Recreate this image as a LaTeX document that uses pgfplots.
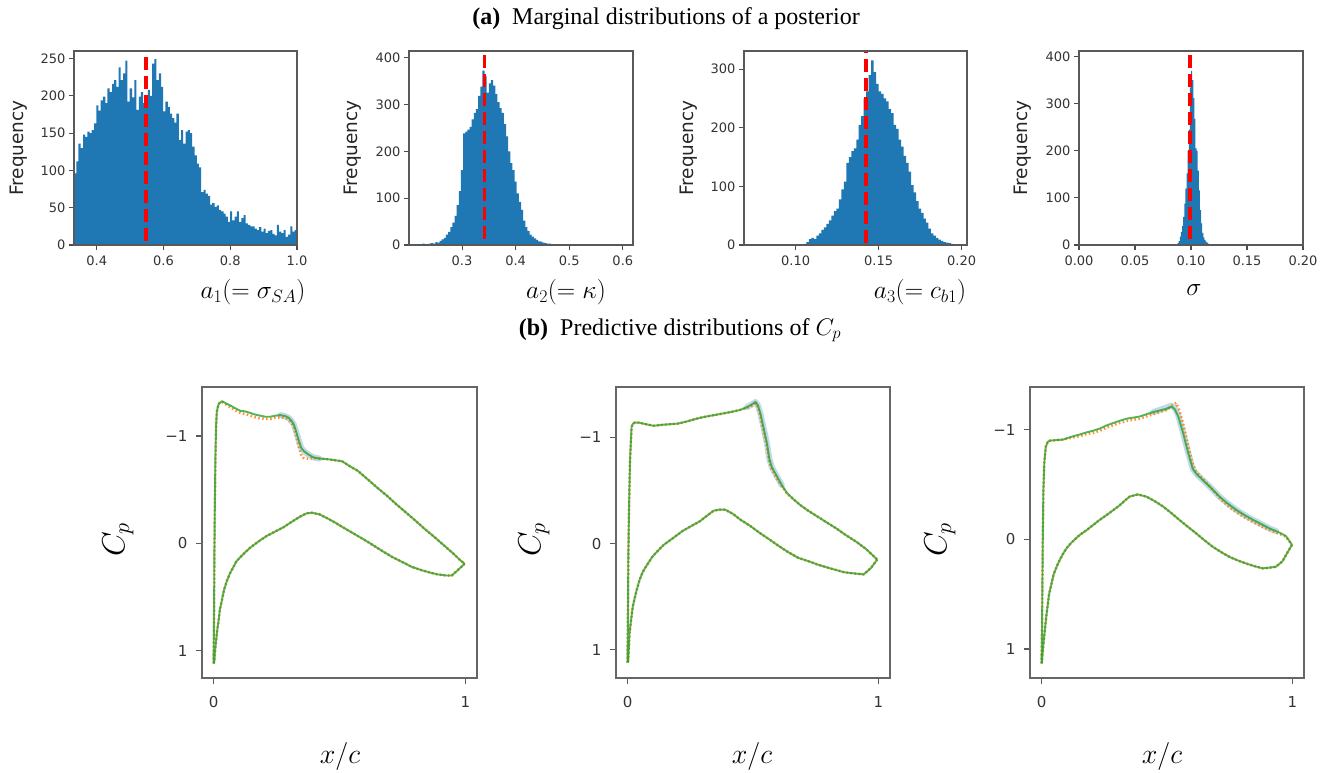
\RequirePackage{fix-cm}
\documentclass[border=0pt]{standalone}
\usepackage{fontspec}
\usepackage{pgfplots}
\pgfplotsset{compat=1.18}
\usepackage{pgfplotstable}
\newfontfamily\dejavu{DejaVu Sans}
\newfontfamily\lserif{Liberation Serif}
\definecolor{hblue}{HTML}{1F77B4}
\definecolor{mgreen}{HTML}{2CA02C}
\definecolor{morange}{HTML}{FF7F0E}

\pgfplotsset{
  hist/.style={scale only axis, width=223pt, height=194pt, anchor=south west,
    ymin=0, tick align=outside, tick pos=left, major tick length=5pt,
    axis on top,
    axis line style={draw=black!65, line width=1.3pt},
    every tick/.style={black!70, line width=1.1pt},
    tick label style={font=\dejavu\fontsize{13}{15}\selectfont, text=black!80},
    xticklabel style={yshift=-2pt},
    ylabel={Frequency},
    ylabel style={font=\dejavu\fontsize{18.5}{21}\selectfont, text=black!85, at={(axis description cs:-0.25,0.5)}, anchor=center}},
  histbar/.style={const plot mark left, fill=hblue, draw=none},
  truth/.style={red, line width=3.5pt, dash pattern=on 13pt off 6pt},
  cp/.style={scale only axis, width=274pt, height=291pt, anchor=south west,
    y dir=reverse, xmin=-0.046, xmax=1.046, xtick={0,1}, xticklabels={0,1},
    ytick={-1,0,1}, yticklabels={−1,0,1},
    tick align=outside, tick pos=left, major tick length=6pt,
    axis line style={draw=black!60, line width=1.9pt},
    every tick/.style={black!65, line width=1.3pt},
    tick label style={font=\dejavu\fontsize{15}{17}\selectfont, text=black!80},
    xticklabel style={yshift=-9pt},
    yticklabel style={xshift=-5pt}},
  band/.style={hblue, opacity=0.28, line width=6pt, line join=round, line cap=round},
  obs/.style={morange, line width=2.6pt, opacity=0.85, dash pattern=on 1.5pt off 2.5pt},
  mean/.style={mgreen, line width=1.9pt, opacity=0.8, line join=round}
}

% ---------- histogram data ----------
\pgfplotstableread{
x y
0.332 96
0.339 112
0.345 136
0.352 130
0.359 148
0.365 145
0.372 152
0.379 150
0.385 154
0.392 163
0.399 187
0.405 180
0.412 194
0.419 199
0.426 190
0.432 210
0.439 205
0.446 216
0.452 221
0.459 212
0.466 238
0.472 221
0.479 230
0.486 247
0.492 192
0.499 210
0.506 198
0.513 221
0.519 181
0.526 199
0.532 205
0.539 190
0.546 196
0.553 208
0.559 200
0.566 243
0.573 249
0.579 221
0.586 230
0.593 212
0.599 179
0.606 192
0.613 185
0.619 176
0.626 170
0.633 164
0.639 176
0.646 141
0.653 154
0.659 136
0.666 152
0.673 154
0.679 150
0.686 132
0.693 120
0.700 109
0.706 104
0.713 71
0.720 74
0.726 69
0.733 66
0.740 54
0.746 56
0.753 51
0.760 53
0.766 47
0.773 45
0.780 42
0.786 38
0.793 31
0.800 45
0.806 33
0.813 38
0.820 45
0.826 31
0.833 36
0.840 40
0.846 29
0.853 27
0.860 25
0.866 25
0.873 22
0.880 20
0.886 24
0.893 18
0.900 22
0.906 16
0.913 19
0.920 20
0.926 15
0.933 13
0.940 27
0.946 18
0.953 16
0.960 20
0.966 11
0.973 14
0.980 25
0.986 18
0.993 20
1.000 0
}\histA

\pgfplotstableread{
x y
0.218 2
0.222 1
0.226 3
0.230 2
0.234 1
0.238 3
0.242 4
0.246 3
0.250 6
0.254 5
0.258 9
0.262 12
0.266 15
0.270 22
0.274 28
0.278 38
0.282 48
0.286 62
0.290 85
0.294 115
0.298 160
0.302 238
0.306 242
0.310 246
0.314 252
0.318 268
0.322 282
0.326 290
0.330 318
0.334 338
0.338 372
0.342 360
0.346 325
0.350 345
0.354 352
0.358 340
0.362 322
0.366 305
0.370 292
0.374 282
0.378 258
0.382 232
0.386 200
0.390 175
0.394 160
0.398 135
0.402 110
0.406 92
0.410 75
0.414 52
0.418 38
0.422 30
0.426 22
0.430 18
0.434 14
0.438 11
0.442 8
0.446 7
0.450 5
0.454 4
0.458 3
0.462 3
0.466 2
0.470 2
0.474 1
0.478 1
0.482 0
0.500 1
0.504 0
0.596 1
0.600 0
}\histB

\pgfplotstableread{
x y
0.1050 2
0.1065 5
0.1080 10
0.1095 12
0.1110 10
0.1125 16
0.1140 20
0.1155 26
0.1170 30
0.1185 36
0.1200 42
0.1215 50
0.1230 58
0.1245 62
0.1260 78
0.1275 95
0.1290 108
0.1305 140
0.1320 150
0.1335 160
0.1350 165
0.1365 180
0.1380 205
0.1395 220
0.1410 250
0.1425 262
0.1440 290
0.1455 315
0.1470 295
0.1485 275
0.1500 262
0.1515 258
0.1530 250
0.1545 245
0.1560 232
0.1575 225
0.1590 205
0.1605 198
0.1620 180
0.1635 168
0.1650 152
0.1665 140
0.1680 125
0.1695 102
0.1710 90
0.1725 75
0.1740 62
0.1755 55
0.1770 45
0.1785 38
0.1800 28
0.1815 20
0.1830 16
0.1845 12
0.1860 9
0.1875 7
0.1890 5
0.1905 4
0.1920 3
0.1935 2
0.1950 1
0.1965 1
0.1980 0
}\histC

\pgfplotstableread{
x y
0.085 1
0.086 1
0.087 2
0.088 4
0.089 8
0.090 18
0.091 28
0.092 40
0.093 60
0.094 88
0.095 120
0.096 152
0.097 200
0.098 245
0.099 335
0.100 370
0.101 350
0.102 312
0.103 268
0.104 205
0.105 200
0.106 158
0.107 116
0.108 74
0.109 46
0.110 26
0.111 16
0.112 11
0.113 7
0.114 5
0.115 3
0.116 2
0.117 1
0.118 0
}\histD

% ---------- Cp data ----------
\pgfplotstableread{
x y
0.000 1.12
0.002 0.60
0.003 0.16
0.005 -0.35
0.007 -0.77
0.010 -1.10
0.013 -1.23
0.020 -1.30
0.033 -1.325
0.045 -1.31
0.066 -1.285
0.085 -1.26
0.106 -1.235
0.125 -1.23
0.146 -1.215
0.165 -1.20
0.185 -1.19
0.205 -1.18
0.225 -1.18
0.245 -1.19
0.265 -1.195
0.285 -1.185
0.298 -1.17
0.310 -1.14
0.318 -1.11
0.328 -1.04
0.338 -0.96
0.348 -0.89
0.358 -0.86
0.375 -0.83
0.397 -0.80
0.420 -0.79
0.450 -0.785
0.480 -0.775
0.510 -0.765
0.540 -0.72
0.573 -0.675
0.610 -0.60
0.649 -0.52
0.690 -0.44
0.725 -0.365
0.765 -0.285
0.802 -0.21
0.840 -0.13
0.878 -0.056
0.915 0.02
0.954 0.10
0.980 0.16
0.997 0.19
}\upA
\pgfplotstableread{
x y
0.000 1.12
0.002 0.60
0.003 0.16
0.005 -0.35
0.007 -0.77
0.010 -1.10
0.013 -1.23
0.020 -1.30
0.033 -1.32
0.045 -1.30
0.066 -1.27
0.085 -1.24
0.106 -1.215
0.125 -1.205
0.146 -1.19
0.165 -1.175
0.185 -1.165
0.205 -1.16
0.225 -1.16
0.245 -1.17
0.265 -1.175
0.285 -1.165
0.298 -1.15
0.310 -1.12
0.318 -1.09
0.328 -1.00
0.338 -0.90
0.350 -0.81
0.360 -0.79
0.375 -0.79
0.397 -0.795
0.420 -0.79
0.450 -0.785
0.480 -0.775
0.510 -0.765
0.540 -0.72
0.573 -0.675
0.610 -0.60
0.649 -0.52
0.690 -0.44
0.725 -0.365
0.765 -0.285
0.802 -0.21
0.840 -0.13
0.878 -0.056
0.915 0.02
0.954 0.10
0.980 0.16
0.997 0.19
}\oupA
\pgfplotstableread{
x y
0.997 0.19
0.970 0.25
0.946 0.30
0.923 0.30
0.890 0.29
0.863 0.275
0.825 0.25
0.787 0.22
0.750 0.175
0.711 0.13
0.672 0.075
0.635 0.02
0.597 -0.035
0.559 -0.087
0.520 -0.14
0.481 -0.195
0.450 -0.235
0.420 -0.27
0.390 -0.285
0.370 -0.28
0.344 -0.25
0.310 -0.20
0.278 -0.15
0.245 -0.11
0.212 -0.07
0.180 -0.02
0.146 0.04
0.125 0.085
0.106 0.13
0.090 0.17
0.079 0.22
0.065 0.28
0.053 0.35
0.042 0.43
0.033 0.53
0.025 0.62
0.020 0.72
0.014 0.82
0.009 0.93
0.005 1.02
0.003 1.10
0.001 1.12
}\loA
\pgfplotstableread{
x y
0.265 -1.195
0.285 -1.185
0.298 -1.17
0.310 -1.14
0.318 -1.11
0.328 -1.04
0.338 -0.96
0.348 -0.89
0.358 -0.86
0.375 -0.83
0.397 -0.80
0.420 -0.79
}\bandA

\pgfplotstableread{
x y
0.000 1.12
0.002 0.55
0.003 0.15
0.006 -0.35
0.010 -0.79
0.016 -1.10
0.022 -1.13
0.029 -1.14
0.045 -1.14
0.063 -1.13
0.083 -1.12
0.103 -1.11
0.123 -1.115
0.143 -1.12
0.170 -1.125
0.200 -1.13
0.236 -1.15
0.265 -1.17
0.290 -1.185
0.320 -1.20
0.356 -1.215
0.390 -1.23
0.423 -1.245
0.450 -1.26
0.476 -1.285
0.495 -1.31
0.510 -1.335
0.520 -1.30
0.530 -1.22
0.543 -1.08
0.556 -0.94
0.565 -0.80
0.575 -0.72
0.596 -0.63
0.615 -0.55
0.636 -0.475
0.665 -0.41
0.690 -0.36
0.720 -0.31
0.756 -0.256
0.800 -0.19
0.834 -0.14
0.870 -0.08
0.910 -0.02
0.950 0.05
0.995 0.15
}\upB
\pgfplotstableread{
x y
0.000 1.12
0.002 0.55
0.003 0.15
0.006 -0.35
0.010 -0.79
0.016 -1.10
0.022 -1.13
0.029 -1.14
0.045 -1.14
0.063 -1.13
0.083 -1.12
0.103 -1.11
0.123 -1.115
0.143 -1.12
0.170 -1.125
0.200 -1.13
0.236 -1.15
0.265 -1.17
0.290 -1.185
0.320 -1.20
0.356 -1.215
0.390 -1.23
0.423 -1.245
0.450 -1.26
0.476 -1.28
0.495 -1.30
0.510 -1.32
0.520 -1.28
0.530 -1.19
0.543 -1.04
0.556 -0.90
0.565 -0.77
0.575 -0.70
0.596 -0.61
0.615 -0.54
0.636 -0.47
0.665 -0.41
0.690 -0.36
0.720 -0.31
0.756 -0.256
0.800 -0.19
0.834 -0.14
0.870 -0.08
0.910 -0.02
0.950 0.05
0.995 0.15
}\oupB
\pgfplotstableread{
x y
0.995 0.15
0.970 0.23
0.941 0.29
0.900 0.28
0.864 0.27
0.810 0.235
0.757 0.197
0.720 0.165
0.680 0.134
0.640 0.08
0.604 0.025
0.565 -0.04
0.527 -0.10
0.490 -0.165
0.450 -0.225
0.420 -0.28
0.389 -0.32
0.365 -0.32
0.343 -0.31
0.315 -0.26
0.288 -0.21
0.250 -0.16
0.220 -0.12
0.180 -0.05
0.145 0.01
0.128 0.05
0.100 0.12
0.075 0.21
0.060 0.27
0.048 0.34
0.035 0.45
0.021 0.59
0.014 0.72
0.008 0.84
0.003 1.09
0.001 1.12
}\loB
\pgfplotstableread{
x y
0.476 -1.285
0.495 -1.31
0.510 -1.335
0.520 -1.30
0.530 -1.22
0.543 -1.08
0.556 -0.94
0.565 -0.80
0.575 -0.72
0.596 -0.63
0.615 -0.55
}\bandB

\pgfplotstableread{
x y
0.000 1.13
0.002 0.80
0.003 0.49
0.005 0.0
0.007 -0.42
0.011 -0.70
0.017 -0.845
0.025 -0.89
0.033 -0.90
0.060 -0.905
0.086 -0.91
0.105 -0.925
0.126 -0.94
0.150 -0.955
0.179 -0.975
0.205 -0.99
0.232 -1.01
0.260 -1.04
0.285 -1.06
0.310 -1.08
0.338 -1.10
0.365 -1.11
0.391 -1.12
0.417 -1.14
0.444 -1.16
0.470 -1.175
0.497 -1.19
0.517 -1.21
0.530 -1.19
0.545 -1.12
0.563 -0.98
0.583 -0.80
0.603 -0.64
0.620 -0.59
0.643 -0.54
0.675 -0.47
0.709 -0.39
0.740 -0.33
0.775 -0.27
0.810 -0.22
0.841 -0.18
0.875 -0.14
0.908 -0.10
0.935 -0.075
0.954 -0.055
0.974 -0.03
0.998 0.05
}\upC
\pgfplotstableread{
x y
0.000 1.13
0.002 0.80
0.003 0.49
0.005 0.0
0.007 -0.42
0.011 -0.70
0.017 -0.845
0.025 -0.89
0.033 -0.90
0.060 -0.905
0.086 -0.91
0.105 -0.92
0.126 -0.93
0.150 -0.94
0.179 -0.96
0.205 -0.97
0.232 -0.99
0.260 -1.02
0.285 -1.04
0.310 -1.06
0.338 -1.08
0.365 -1.09
0.391 -1.10
0.417 -1.12
0.444 -1.14
0.470 -1.16
0.497 -1.18
0.520 -1.22
0.537 -1.245
0.550 -1.17
0.565 -1.05
0.583 -0.87
0.600 -0.70
0.615 -0.62
0.643 -0.55
0.675 -0.47
0.709 -0.38
0.740 -0.31
0.775 -0.25
0.810 -0.20
0.841 -0.16
0.875 -0.12
0.908 -0.085
0.935 -0.06
0.954 -0.045
0.974 -0.025
0.998 0.05
}\oupC
\pgfplotstableread{
x y
0.998 0.05
0.980 0.12
0.960 0.20
0.934 0.25
0.900 0.26
0.881 0.264
0.850 0.245
0.815 0.22
0.780 0.19
0.749 0.16
0.715 0.115
0.682 0.067
0.650 0.01
0.616 -0.055
0.583 -0.115
0.550 -0.176
0.517 -0.24
0.484 -0.30
0.450 -0.35
0.417 -0.39
0.384 -0.41
0.351 -0.39
0.330 -0.35
0.311 -0.31
0.285 -0.265
0.258 -0.22
0.230 -0.175
0.205 -0.13
0.180 -0.085
0.152 -0.04
0.135 -0.005
0.119 0.03
0.100 0.08
0.086 0.13
0.072 0.19
0.060 0.25
0.048 0.32
0.040 0.40
0.030 0.50
0.024 0.61
0.018 0.72
0.013 0.83
0.008 0.94
0.004 1.04
0.001 1.13
}\loC
\pgfplotstableread{
x y
0.444 -1.16
0.470 -1.18
0.497 -1.20
0.517 -1.22
0.530 -1.20
0.545 -1.13
0.563 -0.98
0.583 -0.80
0.603 -0.64
0.620 -0.59
0.643 -0.54
0.675 -0.47
0.709 -0.39
0.740 -0.33
0.775 -0.27
0.810 -0.22
0.841 -0.18
0.875 -0.14
0.908 -0.10
0.935 -0.075
}\bandC

\begin{document}
\begin{tikzpicture}
\path[use as bounding box] (0pt,0pt) rectangle (1320pt,-772pt);

% titles
\node at (666pt,-19pt) {\lserif\fontsize{24}{28}\selectfont\textbf{(a)}\hspace{0.5em}Marginal distributions of a posterior};
\node at (680pt,-330pt) {\lserif\fontsize{24}{28}\selectfont\textbf{(b)}\hspace{0.5em}Predictive distributions of $C_p$};

% ---- top row ----
\begin{axis}[hist, at={(74pt,-245pt)}, xmin=0.332, xmax=1.0, ymax=260,
  xtick={0.4,0.6,0.8,1.0}, xticklabels={0.4,0.6,0.8,1.0},
  ytick={0,50,100,150,200,250}, yticklabels={0,50,100,150,200,250}]
\addplot[histbar] table {\histA} \closedcycle;
\addplot[truth] coordinates {(0.548,6) (0.548,260)};
\end{axis}

\begin{axis}[hist, at={(409pt,-245pt)}, width=224pt, xmin=0.201, xmax=0.619, ymax=414,
  xtick={0.3,0.4,0.5,0.6}, xticklabels={0.3,0.4,0.5,0.6},
  ytick={0,100,200,300,400}, yticklabels={0,100,200,300,400}]
\addplot[histbar] table {\histB} \closedcycle;
\addplot[truth] coordinates {(0.342,12) (0.342,414)};
\end{axis}

\begin{axis}[hist, at={(744pt,-245pt)}, xmin=0.0689, xmax=0.2032, ymax=331,
  xtick={0.10,0.15,0.20}, xticklabels={0.10,0.15,0.20},
  ytick={0,100,200,300}, yticklabels={0,100,200,300}]
\addplot[histbar] table {\histC} \closedcycle;
\addplot[truth] coordinates {(0.1425,3) (0.1425,331)};
\end{axis}

\begin{axis}[hist, at={(1079pt,-245pt)}, width=224pt, xmin=0, xmax=0.2, ymax=412,
  xtick={0,0.05,0.10,0.15,0.20}, xticklabels={0.00,0.05,0.10,0.15,0.20},
  ytick={0,100,200,300,400}, yticklabels={0,100,200,300,400}]
\addplot[histbar] table {\histD} \closedcycle;
\addplot[truth] coordinates {(0.0993,12) (0.0993,412)};
\end{axis}

\node at (253pt,-292pt) {\fontsize{25.5}{29}\selectfont$a_1(=\sigma_{SA})$};
\node at (566pt,-292pt) {\fontsize{25.5}{29}\selectfont$a_2(=\kappa)$};
\node at (920pt,-292pt) {\fontsize{25.5}{29}\selectfont$a_3(=c_{b1})$};
\node at (1194pt,-290pt) {\fontsize{25.5}{29}\selectfont$\sigma$};

% ---- bottom row ----
\begin{axis}[cp, at={(202pt,-678pt)}, width=275pt, ymin=-1.457, ymax=1.256]
\addplot[band] table {\bandA};
\addplot[obs] table {\oupA};
\addplot[obs] table {\loA};
\addplot[mean] table {\upA};
\addplot[mean] table {\loA};
\end{axis}

\begin{axis}[cp, at={(616pt,-678pt)}, ymin=-1.475, ymax=1.266]
\addplot[band] table {\bandB};
\addplot[obs] table {\oupB};
\addplot[obs] table {\loB};
\addplot[mean] table {\upB};
\addplot[mean] table {\loB};
\end{axis}

\begin{axis}[cp, at={(1030pt,-678pt)}, ymin=-1.389, ymax=1.264]
\addplot[band] table {\bandC};
\addplot[obs] table {\oupC};
\addplot[obs] table {\loC};
\addplot[mean] table {\upC};
\addplot[mean] table {\loC};
\end{axis}

\node[rotate=90] at (118pt,-540pt) {\fontsize{32}{36}\selectfont$C_p$};
\node[rotate=90] at (534pt,-540pt) {\fontsize{32}{36}\selectfont$C_p$};
\node[rotate=90] at (940pt,-540pt) {\fontsize{32}{36}\selectfont$C_p$};

\node at (340pt,-756pt) {\fontsize{28}{32}\selectfont$x/c$};
\node at (752pt,-756pt) {\fontsize{28}{32}\selectfont$x/c$};
\node at (1162pt,-756pt) {\fontsize{28}{32}\selectfont$x/c$};
\end{tikzpicture}
\end{document}
